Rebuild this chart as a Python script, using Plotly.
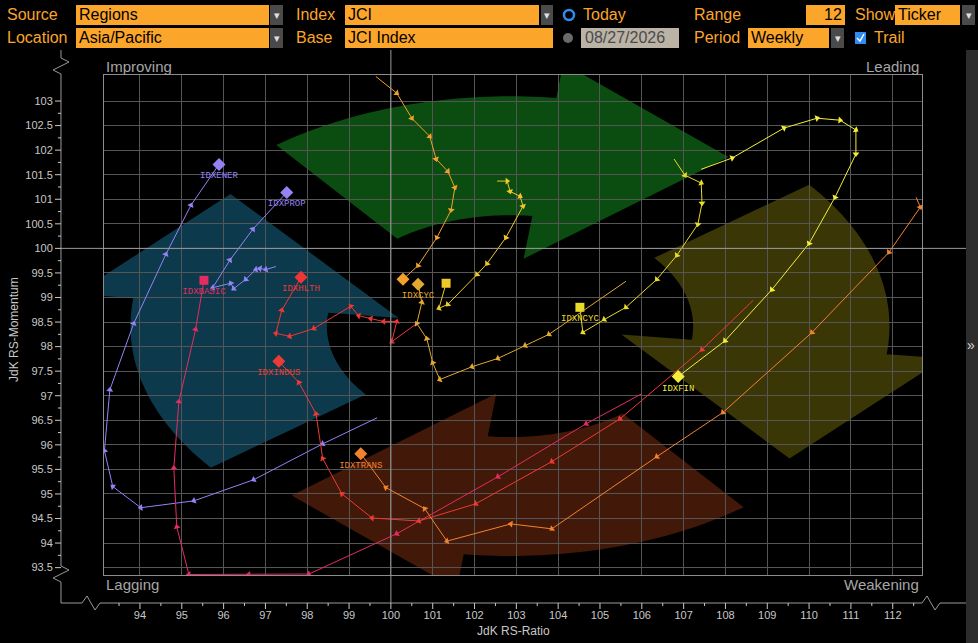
import numpy as np
import plotly.graph_objects as go

# ---- trails: oldest week first, last value = current week ----
ener_x = [99.67, 98.37, 96.72, 95.29, 94.02, 93.35, 93.15, 93.28, 93.85, 94.62, 95.22, 95.89]
ener_y = [96.55, 96.02, 95.29, 94.86, 94.72, 95.15, 95.88, 97.12, 98.47, 99.88, 100.88, 101.71]

prop_x = [97.25, 97.01, 96.87, 96.77, 96.53, 96.24, 96.17, 95.74, 96.15, 96.70, 97.51]
prop_y = [99.63, 99.57, 99.59, 99.57, 99.37, 99.18, 99.29, 99.20, 99.76, 100.39, 101.14]

basic_x = [106.00, 104.67, 102.56, 100.14, 98.04, 96.60, 95.17, 94.88, 94.81, 94.93, 95.33, 95.53]
basic_y = [97.04, 96.43, 95.35, 94.19, 93.37, 93.36, 93.36, 94.33, 95.53, 96.88, 98.35, 99.35]

hlth_x = [100.62, 100.02, 100.14, 99.83, 99.52, 99.23, 99.04, 98.16, 97.58, 97.25, 97.39, 97.85]
hlth_y = [98.47, 98.10, 98.51, 98.51, 98.57, 98.63, 98.82, 98.37, 98.21, 98.27, 98.74, 99.41]

indus_x = [108.66, 107.44, 105.48, 103.85, 102.03, 100.67, 99.55, 98.83, 98.37, 98.21, 97.80, 97.32]
indus_y = [98.94, 97.94, 96.53, 95.66, 94.80, 94.45, 94.51, 95.00, 95.72, 96.63, 97.27, 97.70]

trans_x = [112.56, 112.66, 111.91, 110.07, 107.94, 106.36, 103.85, 102.87, 101.34, 100.81, 99.88, 99.28]
trans_y = [101.04, 100.84, 99.92, 98.29, 96.66, 95.76, 94.29, 94.39, 94.04, 94.70, 95.13, 95.82]

fin_x = [107.42, 108.16, 109.40, 110.19, 110.74, 111.12, 111.12, 110.62, 110.00, 109.11, 107.99, 106.87]
fin_y = [101.61, 101.84, 102.45, 102.65, 102.61, 102.41, 101.92, 101.04, 100.10, 99.16, 98.12, 97.39]

ncyc_x = [106.77, 107.03, 107.42, 107.44, 107.34, 106.84, 106.36, 105.62, 105.10, 104.59, 104.52]
ncyc_y = [101.82, 101.49, 101.33, 100.92, 100.49, 99.86, 99.37, 98.80, 98.55, 98.29, 98.80]

tech_x = [99.64, 100.14, 100.50, 100.93, 101.08, 101.36, 101.53, 101.44, 101.10, 100.65, 100.29]
tech_y = [103.50, 103.16, 102.65, 102.28, 101.82, 101.57, 101.24, 100.78, 100.22, 99.65, 99.37]

infra_x = [102.54, 102.78, 102.85, 103.09, 103.16, 102.75, 102.30, 102.06, 101.36, 101.15, 101.32]
infra_y = [101.37, 101.37, 101.16, 101.06, 100.86, 100.22, 99.69, 99.47, 98.86, 98.78, 99.29]

cyc_x = [105.62, 103.78, 103.21, 102.56, 101.94, 101.17, 101.00, 100.86, 100.62, 100.74, 100.65]
cyc_y = [99.33, 98.25, 98.02, 97.76, 97.59, 97.33, 97.67, 98.16, 98.47, 98.90, 99.27]

x_ticks = list(range(94, 113))
y_ticks = [93.5, 94, 94.5, 95, 95.5, 96, 96.5, 97, 97.5, 98, 98.5, 99, 99.5,
           100, 100.5, 101, 101.5, 102, 102.5, 103]
y_ticktext = ["93.5", "94", "94.5", "95", "95.5", "96", "96.5", "97", "97.5", "98", "98.5",
              "99", "99.5", "100", "100.5", "101", "101.5", "102", "102.5", "103"]

# ticker, x, y, colour, head symbol, label shown
series = [
    ("IDXENER", ener_x, ener_y, "#9682f5", "diamond", True),
    ("IDXPROP", prop_x, prop_y, "#9682f5", "diamond", True),
    ("IDXBASIC", basic_x, basic_y, "#e42c62", "square", True),
    ("IDXHLTH", hlth_x, hlth_y, "#ee3636", "diamond", True),
    ("IDXINDUS", indus_x, indus_y, "#ee3a36", "diamond", True),
    ("IDXTRANS", trans_x, trans_y, "#f2822e", "diamond", True),
    ("IDXFIN", fin_x, fin_y, "#f4ee3a", "diamond", True),
    ("IDXNCYC", ncyc_x, ncyc_y, "#e8dc2a", "square", True),
    ("IDXTECH", tech_x, tech_y, "#f2a22a", "diamond", False),
    ("IDXINFRA", infra_x, infra_y, "#f0c82a", "square", False),
    ("IDXCYC", cyc_x, cyc_y, "#e2a832", "diamond", True),
]

X0, X1 = 93.14, 112.70
Y0, Y1 = 93.35, 103.53
L, R, T, B = 104, 922, 75, 575   # plot box, in screen pixels
W, H = 978, 643

FONT = "Liberation Sans, Arial, sans-serif"
ORANGE = "#fba52a"


def px(p):
    return (p - L) / (R - L)


def py(p):
    return (B - p) / (B - T)


def xp(v):
    return (v - X0) / (X1 - X0)


def yp(v):
    return (v - Y0) / (Y1 - Y0)


fig = go.Figure()

# rotation arrows (a ring around the chart centre, drawn in a stretched space)
CX = X0 + (510 - L) / 41.82
CY = Y0 + (B - 326) / 49.15


def polar(r, t):
    a = np.radians(t)
    return CX + r * np.cos(a) * 1.65 / 41.82, CY + r * np.sin(a) / 49.15


def ring_arrow(t_tail):
    t_head = t_tail - 45
    pts = [polar(230, t) for t in np.linspace(t_tail, t_head, 40)]
    pts += [polar(265, t_head), polar(215, t_head - 31), polar(68, t_head)]
    pts += [polar(111, t) for t in np.linspace(t_head, t_tail, 40)]
    return "M " + " L ".join(f"{a:.3f},{b:.3f}" for a, b in pts) + " Z"


for tail, col in [(128, "#0b4c11"), (38, "#3a3605"), (-52, "#421808"), (218, "#0c3a4c")]:
    fig.add_shape(type="path", path=ring_arrow(tail), xref="x", yref="y",
                  fillcolor=col, line_width=0, layer="below")

for name, xs, ys, col, sym, lab in series:
    fig.add_trace(go.Scatter(
        x=xs, y=ys, mode="lines+markers", name=name,
        line=dict(color=col, width=1),
        marker=dict(symbol="triangle-up", size=6, color=col, angleref="previous"),
        hoverinfo="skip", showlegend=False))
    fig.add_trace(go.Scatter(
        x=[xs[-1]], y=[ys[-1]], mode="markers+text", name=name,
        text=[name if lab else ""], textposition="bottom center",
        textfont=dict(family="Liberation Mono, DejaVu Sans Mono, monospace", size=9, color=col),
        marker=dict(symbol=sym, size=10 if sym == "diamond" else 9, color=col),
        hoverinfo="skip", showlegend=False))

shapes = []
grey = "#9a9a9a"
# centre cross
shapes.append(dict(type="line", xref="paper", yref="paper", x0=xp(100), x1=xp(100),
                   y0=py(50), y1=py(603), line=dict(color=grey, width=1)))
shapes.append(dict(type="line", xref="paper", yref="paper", x0=px(61), x1=px(966),
                   y0=yp(100), y1=yp(100), line=dict(color=grey, width=1)))

# broken axis lines
ypath = [(61, 50), (61, 58), (69, 62), (53, 70), (61, 74), (61, 566), (69, 570), (53, 578),
         (61, 582), (61, 603), (82, 603), (87, 596), (95, 610), (100, 603), (922, 603),
         (927, 596), (935, 610), (940, 603), (966, 603)]
shapes.append(dict(type="path", xref="paper", yref="paper",
                   path="M " + " L ".join(f"{px(a):.4f},{py(b):.4f}" for a, b in ypath),
                   line=dict(color=grey, width=1)))
for v in np.arange(93.5, 112.51, 0.5):
    major = abs(v - round(v)) < 1e-6
    shapes.append(dict(type="line", xref="paper", yref="paper", x0=xp(v), x1=xp(v),
                       y0=py(603), y1=py(609 if major else 606), line=dict(color="#c8c8c8", width=1)))
for v in np.arange(93.5, 103.01, 0.25):
    major = abs(v * 2 - round(v * 2)) < 1e-6
    shapes.append(dict(type="line", xref="paper", yref="paper", x0=px(55 if major else 58),
                       x1=px(61), y0=yp(v), y1=yp(v), line=dict(color="#c8c8c8", width=1)))

# side bar
shapes.append(dict(type="rect", xref="paper", yref="paper", x0=px(966), x1=px(978),
                   y0=py(50), y1=py(643), fillcolor="#2c2c2c", line_width=0))

# ---- header controls ----
ann = []
r1, r2 = 15, 38


def label(text, x, yc, color=ORANGE, size=16, anchor="left"):
    ann.append(dict(text=text, xref="paper", yref="paper", x=px(x), y=py(yc), xanchor=anchor,
                    yanchor="middle", showarrow=False, font=dict(family=FONT, size=size, color=color)))


def box(x0, x1, yc, fill=ORANGE):
    shapes.append(dict(type="rect", xref="paper", yref="paper", x0=px(x0), x1=px(x1),
                       y0=py(yc + 10), y1=py(yc - 10), fillcolor=fill, line_width=0))


def drop(x0, x1, yc):
    box(x0, x1, yc, "#4a4a4a")
    label("▾", (x0 + x1) / 2, yc, "#e0e0e0", 11, "center")


for t, x, yc in [("Source", 5, r1), ("Location", 5, r2), ("Index", 294, r1), ("Base", 294, r2),
                 ("Today", 581, r1), ("Range", 692, r1), ("Period", 692, r2), ("Show", 853, r1),
                 ("Trail", 872, r2)]:
    label(t, x, yc)

for t, x0, x1, yc, arrow in [("Regions", 76, 269, r1, (270, 283)), ("Asia/Pacific", 76, 269, r2, (270, 283)),
                             ("JCI", 345, 539, r1, (541, 553)), ("JCI Index", 345, 553, r2, None),
                             ("Ticker", 895, 960, r1, (962, 975)), ("Weekly", 748, 829, r2, (831, 844))]:
    box(x0, x1, yc)
    label(t, x0 + 1, yc, "#000000")
    if arrow:
        drop(arrow[0], arrow[1], yc)
box(806, 845, r1)
label("12", 844, r1, "#000000", 16, "right")
box(581, 679, r2, "#bab3a6")
label("08/27/2026", 583, r2, "#4a4a4a")

shapes.append(dict(type="circle", xref="paper", yref="paper", x0=px(564), x1=px(574),
                   y0=py(r1 - 5), y1=py(r1 + 5), fillcolor="#000000", line=dict(color="#2f8cf0", width=2.5)))
shapes.append(dict(type="circle", xref="paper", yref="paper", x0=px(563), x1=px(573),
                   y0=py(r2 - 5), y1=py(r2 + 5), fillcolor="#6a6a6a", line_width=0))
shapes.append(dict(type="rect", xref="paper", yref="paper", x0=px(855), x1=px(866),
                   y0=py(r2 + 6), y1=py(r2 - 6), fillcolor="#2f8cf0", line_width=0))
shapes.append(dict(type="path", xref="paper", yref="paper",
                   path=f"M {px(857):.4f},{py(38):.4f} L {px(860):.4f},{py(41):.4f} L {px(864):.4f},{py(34):.4f}",
                   line=dict(color="#ffffff", width=1.5)))

# quadrant names, axis titles, side arrow
for t, x, yc, anc in [("Improving", 104, 66, "left"), ("Leading", 921, 66, "right"),
                      ("Lagging", 104, 584, "left"), ("Weakening", 921, 584, "right")]:
    label(t, x, yc, "#a6a6a6", 15, anc)
label("JdK RS-Ratio", (L + R) / 2, 631, "#c8c8c8", 12, "center")
ann.append(dict(text="JdK RS-Momentum", xref="paper", yref="paper", x=px(14), y=py(330),
                textangle=-90, showarrow=False, xanchor="center", yanchor="middle",
                font=dict(family=FONT, size=12, color="#c8c8c8")))
label("»", 971, 345, "#d8d8d8", 14, "center")

fig.update_layout(
    width=W, height=H,
    margin=dict(l=L, r=W - R, t=T, b=H - B),
    paper_bgcolor="#000000", plot_bgcolor="#000000",
    shapes=list(fig.layout.shapes) + shapes,
    annotations=ann,
    showlegend=False,
)
fig.update_xaxes(range=[X0, X1], tickvals=x_ticks, ticktext=[str(v) for v in x_ticks],
                 showgrid=True, gridcolor="#555555", gridwidth=1, zeroline=False,
                 showline=True, linecolor="#8c8c8c", mirror=True, ticks="",
                 ticklabelstandoff=30, tickfont=dict(family=FONT, size=11, color="#c8c8c8"))
fig.update_yaxes(range=[Y0, Y1], tickvals=y_ticks, ticktext=y_ticktext,
                 showgrid=True, gridcolor="#555555", gridwidth=1, zeroline=False,
                 showline=True, linecolor="#8c8c8c", mirror=True, ticks="",
                 ticklabelstandoff=48, tickfont=dict(family=FONT, size=11, color="#c8c8c8"))

# the page's default body margin would push the 978x643 figure off the window
fig.write_html("out.html", config={"displayModeBar": False},
               post_script="document.body.style.margin = '0';")
